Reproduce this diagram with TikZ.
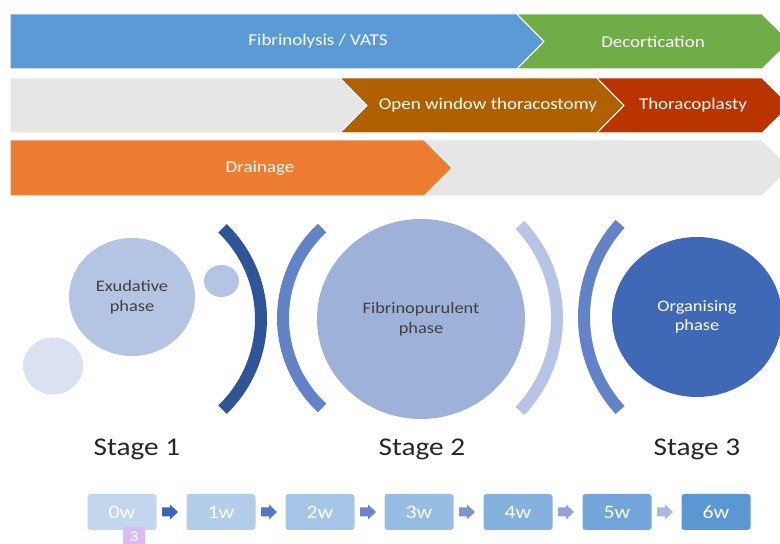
\documentclass[tikz,border=0pt]{standalone}
\usepackage{fontspec}
\setmainfont{Carlito}[FakeStretch=1.15]
\usetikzlibrary{positioning,shapes.geometric,calc}
\definecolor{barblue}{RGB}{91,155,213}
\definecolor{bargreen}{RGB}{112,173,71}
\definecolor{bargray}{RGB}{231,230,230}
\definecolor{barbrown}{RGB}{176,96,0}
\definecolor{barred}{RGB}{186,52,0}
\definecolor{barorange}{RGB}{237,125,49}
\definecolor{bubfaint}{RGB}{218,225,240}
\definecolor{phexu}{RGB}{180,196,227}
\definecolor{phfib}{RGB}{157,177,217}
\definecolor{phorg}{RGB}{63,104,182}
\definecolor{phtxt}{RGB}{64,64,64}
\definecolor{brk1}{RGB}{47,85,151}
\definecolor{brk2}{RGB}{99,131,201}
\definecolor{brk3}{RGB}{183,196,229}
\definecolor{brk4}{RGB}{99,131,201}
\definecolor{wk0}{RGB}{194,215,238}
\definecolor{wk1}{RGB}{179,205,234}
\definecolor{wk2}{RGB}{166,198,231}
\definecolor{wk3}{RGB}{152,189,227}
\definecolor{wk4}{RGB}{132,177,222}
\definecolor{wk5}{RGB}{114,166,218}
\definecolor{wk6}{RGB}{91,151,211}
\definecolor{wa0}{RGB}{63,99,184}
\definecolor{wa1}{RGB}{85,117,197}
\definecolor{wa2}{RGB}{107,133,203}
\definecolor{wa3}{RGB}{127,147,207}
\definecolor{wa4}{RGB}{150,163,214}
\definecolor{wa5}{RGB}{173,184,224}
\definecolor{pgtag}{RGB}{217,188,247}
\tikzset{
  bar/.style={draw=white, line width=1pt},
  bartxt/.style={text=white, font=\fontsize{16.5}{18}\selectfont},
  phase/.style={ellipse, inner sep=0pt, align=center, text=phtxt,
    font=\fontsize{16}{19.5}\selectfont},
  bracket/.style={line width=12pt},
  stagelbl/.style={font=\fontsize{25.5}{28}\selectfont, text=black!85},
  wkbox/.style={rounded corners=3pt, minimum width=69pt, minimum height=36pt,
    text=white, font=\fontsize{19}{21}\selectfont},
  wkarr/.pic={
    \path[pic actions] (-8,-4.5) -- (0,-4.5) -- (0,-7.5) -- (8,0) -- (0,7.5)
      -- (0,4.5) -- (-8,4.5) -- cycle;
  },
  pgbox/.style={rounded corners=2pt, fill=pgtag, minimum width=22pt, minimum height=20pt,
    inner sep=0pt, text=white, font=\fontsize{15}{16}\selectfont},
}

\begin{document}
\begin{tikzpicture}[x=1pt, y=1pt]
  \useasboundingbox (0,0) rectangle (780,544);
  \clip (0,0) rectangle (780,544);

  % treatment bars
  \path[bar, fill=barblue] (10,530) -- (517,530) -- (544,502.5) -- (517,475) -- (10,475) -- cycle;
  \path[bar, fill=bargreen] (517,530) -- (762,530) -- (790,502.5) -- (762,475) -- (517,475) -- (544,502.5) -- cycle;
  \path[bar, fill=bargray] (10,466) -- (762,466) -- (790,438.5) -- (762,411) -- (10,411) -- cycle;
  \path[bar, fill=barbrown] (340,466) -- (597,466) -- (624,438.5) -- (597,411) -- (340,411) -- (367,438.5) -- cycle;
  \path[bar, fill=barred] (597,466) -- (762,466) -- (790,438.5) -- (762,411) -- (597,411) -- (624,438.5) -- cycle;
  \path[bar, fill=bargray] (10,404) -- (762,404) -- (790,376) -- (762,348) -- (10,348) -- cycle;
  \path[bar, fill=barorange] (10,404) -- (424,404) -- (452,376) -- (424,348) -- (10,348) -- cycle;

  \node[bartxt] (tfib) at (318,502.5) {Fibrinolysis / VATS};
  \node[bartxt] (tdec) at (653,502.5) {Decortication};
  \node[bartxt] (tow) at (488,438.5) {Open window thoracostomy};
  \node[bartxt] (ttp) at (693,438.5) {Thoracoplasty};
  \node[bartxt] (tdr) at (260,376) {Drainage};

  % phases
  \node[phase, fill=bubfaint, minimum width=60pt, minimum height=57pt] (bub1) at (53,178) {};
  \node[phase, fill=phexu, minimum width=126pt, minimum height=118pt] (exu) at (132,247) {Exudative\\phase};
  \node[phase, fill=phexu, minimum width=35pt, minimum height=32pt] (bub2) at (221.5,263) {};
  \node[phase, fill=phfib, minimum width=208pt, minimum height=200pt] (fib) at (421,225) {Fibrinopurulent\\phase};
  \node[phase, fill=phorg, text=white, minimum width=170pt, minimum height=160pt] (org) at (697,227) {Organising\\phase};

  \draw[bracket, brk1] (135,225) ++(-46:126) arc[start angle=-46, end angle=46, radius=126];
  \draw[bracket, brk2] (406,226) ++(133:123) arc[start angle=133, end angle=227, radius=123];
  \draw[bracket, brk3] (421.6,226) ++(-43.4:135.4) arc[start angle=-43.4, end angle=43.4, radius=135.4];
  \draw[bracket, brk4] (722,227) ++(137.6:138) arc[start angle=137.6, end angle=222.4, radius=138];

  \node[stagelbl] (st1) at (137,95) {Stage 1};
  \node[stagelbl] (st2) at (422,95) {Stage 2};
  \node[stagelbl] (st3) at (697,95) {Stage 3};

  % weeks
  \foreach \n in {0,...,6}
    \node[wkbox, fill=wk\n] (w\n) at (122+99*\n,32) {\n w};
  \foreach \n [count=\m from 1] in {0,...,5}
    \pic[fill=wa\n] (a\n) at ($(w\n.east)!0.45!(w\m.west)$) {wkarr};

  \node[pgbox] (pg) at (134,7) {3};
\end{tikzpicture}
\end{document}
